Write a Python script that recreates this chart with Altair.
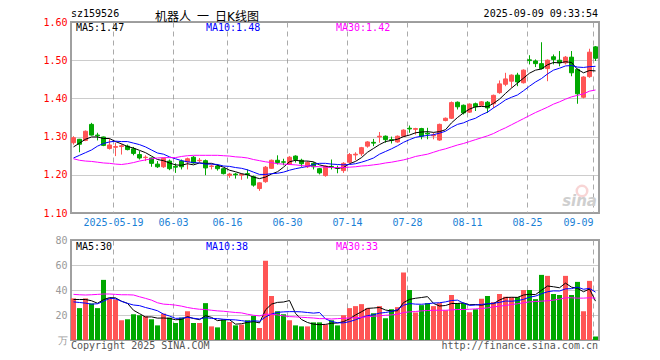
import altair as alt
import pandas as pd

# ---------------- data ----------------
trade_days = {
    "05": ["08", "09", "12", "13", "14", "15", "16", "19", "20", "21", "22", "23", "26", "27", "28", "29", "30"],
    "06": ["03", "04", "05", "06", "09", "10", "11", "12", "13", "16", "17", "18", "19", "20", "23", "24", "25", "26", "27", "30"],
    "07": ["01", "02", "03", "04", "07", "08", "09", "10", "11", "14", "15", "16", "17", "18", "21", "22", "23", "24", "25", "28", "29", "30", "31"],
    "08": ["01", "04", "05", "06", "07", "08", "11", "12", "13", "14", "15", "18", "19", "20", "21", "22", "25", "26", "27", "28", "29"],
    "09": ["01", "02", "03", "04", "05", "08", "09"],
}
dates = [f"2025-{m}-{d}" for m, ds in trade_days.items() for d in ds]

opens = [1.284, 1.293, 1.290, 1.332, 1.304, 1.299, 1.269, 1.272, 1.274, 1.275,
         1.268, 1.253, 1.245, 1.244, 1.228, 1.221, 1.236, 1.222, 1.236, 1.234,
         1.246, 1.237, 1.237, 1.222, 1.223, 1.216, 1.198, 1.202, 1.199, 1.203,
         1.195, 1.164, 1.182, 1.217, 1.238, 1.234, 1.227, 1.249, 1.238, 1.221,
         1.230, 1.216, 1.198, 1.222, 1.219, 1.211, 1.233, 1.252, 1.255, 1.275,
         1.285, 1.299, 1.301, 1.292, 1.286, 1.301, 1.322, 1.319, 1.321, 1.309,
         1.302, 1.291, 1.342, 1.348, 1.390, 1.382, 1.364, 1.386, 1.382, 1.390,
         1.386, 1.415, 1.437, 1.445, 1.461, 1.441, 1.501, 1.498, 1.491, 1.478,
         1.509, 1.500, 1.493, 1.508, 1.476, 1.403, 1.457, 1.535]
highs = [1.301, 1.294, 1.316, 1.336, 1.310, 1.300, 1.295, 1.284, 1.280, 1.279,
         1.273, 1.262, 1.251, 1.245, 1.236, 1.245, 1.240, 1.230, 1.240, 1.245,
         1.249, 1.244, 1.240, 1.227, 1.228, 1.218, 1.205, 1.205, 1.204, 1.214,
         1.198, 1.180, 1.223, 1.240, 1.251, 1.242, 1.249, 1.251, 1.242, 1.236,
         1.233, 1.218, 1.225, 1.240, 1.224, 1.233, 1.257, 1.259, 1.273, 1.288,
         1.294, 1.312, 1.303, 1.300, 1.303, 1.319, 1.329, 1.323, 1.323, 1.323,
         1.310, 1.334, 1.350, 1.392, 1.392, 1.384, 1.387, 1.389, 1.393, 1.393,
         1.410, 1.447, 1.467, 1.463, 1.467, 1.476, 1.513, 1.502, 1.547, 1.502,
         1.515, 1.524, 1.511, 1.524, 1.478, 1.458, 1.530, 1.537]
lows = [1.279, 1.259, 1.288, 1.303, 1.290, 1.275, 1.266, 1.249, 1.253, 1.264,
        1.251, 1.240, 1.236, 1.221, 1.218, 1.218, 1.212, 1.205, 1.214, 1.214,
        1.229, 1.233, 1.199, 1.214, 1.211, 1.201, 1.192, 1.190, 1.187, 1.190,
        1.169, 1.158, 1.179, 1.216, 1.227, 1.225, 1.226, 1.232, 1.221, 1.218,
        1.214, 1.201, 1.195, 1.214, 1.204, 1.205, 1.231, 1.238, 1.249, 1.271,
        1.275, 1.284, 1.284, 1.282, 1.284, 1.300, 1.310, 1.305, 1.293, 1.293,
        1.293, 1.289, 1.340, 1.346, 1.371, 1.358, 1.362, 1.367, 1.380, 1.362,
        1.375, 1.412, 1.432, 1.428, 1.432, 1.439, 1.489, 1.482, 1.476, 1.445,
        1.489, 1.484, 1.489, 1.458, 1.386, 1.400, 1.454, 1.498]
closes = [1.297, 1.280, 1.314, 1.304, 1.302, 1.277, 1.278, 1.274, 1.276, 1.266,
          1.256, 1.244, 1.246, 1.230, 1.221, 1.243, 1.216, 1.220, 1.221, 1.242,
          1.231, 1.238, 1.218, 1.223, 1.216, 1.203, 1.202, 1.200, 1.201, 1.201,
          1.173, 1.179, 1.220, 1.238, 1.232, 1.233, 1.246, 1.240, 1.229, 1.232,
          1.221, 1.205, 1.223, 1.220, 1.217, 1.230, 1.253, 1.254, 1.271, 1.286,
          1.283, 1.301, 1.292, 1.290, 1.301, 1.317, 1.320, 1.321, 1.301, 1.307,
          1.304, 1.332, 1.348, 1.389, 1.378, 1.362, 1.385, 1.378, 1.391, 1.375,
          1.408, 1.438, 1.451, 1.461, 1.443, 1.474, 1.499, 1.491, 1.478, 1.500,
          1.502, 1.493, 1.508, 1.467, 1.412, 1.456, 1.521, 1.505]
ma5 = [1.273, 1.283, 1.293, 1.299, 1.299, 1.295, 1.295, 1.287, 1.281, 1.274,
       1.270, 1.264, 1.258, 1.249, 1.240, 1.237, 1.231, 1.226, 1.225, 1.229,
       1.226, 1.231, 1.230, 1.230, 1.225, 1.220, 1.212, 1.208, 1.203, 1.200,
       1.194, 1.190, 1.194, 1.202, 1.208, 1.220, 1.234, 1.238, 1.236, 1.236,
       1.234, 1.226, 1.222, 1.220, 1.217, 1.219, 1.229, 1.235, 1.245, 1.259,
       1.269, 1.279, 1.287, 1.290, 1.293, 1.300, 1.304, 1.310, 1.312, 1.313,
       1.311, 1.313, 1.318, 1.336, 1.350, 1.362, 1.372, 1.378, 1.379, 1.378,
       1.387, 1.398, 1.413, 1.427, 1.440, 1.453, 1.466, 1.474, 1.477, 1.488,
       1.494, 1.493, 1.496, 1.494, 1.476, 1.467, 1.473, 1.472]
ma10 = [1.244, 1.251, 1.258, 1.265, 1.275, 1.282, 1.286, 1.288, 1.287, 1.287,
        1.283, 1.279, 1.273, 1.265, 1.257, 1.254, 1.247, 1.242, 1.237, 1.234,
        1.232, 1.231, 1.228, 1.228, 1.227, 1.223, 1.222, 1.219, 1.217, 1.213,
        1.207, 1.201, 1.201, 1.203, 1.204, 1.207, 1.212, 1.216, 1.219, 1.222,
        1.227, 1.230, 1.230, 1.228, 1.227, 1.226, 1.227, 1.229, 1.233, 1.238,
        1.244, 1.254, 1.261, 1.268, 1.276, 1.285, 1.292, 1.298, 1.301, 1.303,
        1.305, 1.309, 1.314, 1.324, 1.332, 1.336, 1.343, 1.348, 1.357, 1.364,
        1.375, 1.385, 1.396, 1.403, 1.409, 1.420, 1.432, 1.443, 1.452, 1.464,
        1.474, 1.479, 1.485, 1.486, 1.482, 1.481, 1.483, 1.484]
ma30 = [1.242, 1.238, 1.236, 1.235, 1.233, 1.231, 1.230, 1.228, 1.227, 1.229,
        1.232, 1.236, 1.239, 1.242, 1.244, 1.245, 1.245, 1.245, 1.248, 1.250,
        1.251, 1.251, 1.251, 1.251, 1.251, 1.250, 1.249, 1.247, 1.246, 1.244,
        1.240, 1.237, 1.234, 1.232, 1.229, 1.228, 1.227, 1.226, 1.224, 1.223,
        1.222, 1.221, 1.220, 1.219, 1.219, 1.219, 1.220, 1.221, 1.223, 1.224,
        1.226, 1.228, 1.231, 1.233, 1.236, 1.239, 1.243, 1.248, 1.251, 1.254,
        1.259, 1.264, 1.268, 1.273, 1.278, 1.282, 1.287, 1.292, 1.297, 1.302,
        1.308, 1.316, 1.323, 1.331, 1.339, 1.347, 1.355, 1.363, 1.370, 1.377,
        1.385, 1.391, 1.398, 1.404, 1.408, 1.412, 1.419, 1.422]

volumes = [33.3, 25.5, 33.3, 29.2, 25.5, 48.1, 33.3, 32.5, 15.8, 16.6,
           20.6, 19.8, 19.0, 16.6, 11.7, 21.1, 17.9, 13.6, 17.9, 23.0,
           13.6, 13.6, 29.5, 10.9, 10.1, 16.3, 14.4, 11.7, 12.3, 15.8,
           19.3, 9.6, 63.4, 35.2, 23.0, 20.6, 15.8, 11.7, 10.9, 10.9,
           14.1, 14.1, 12.3, 15.8, 11.7, 19.8, 25.5, 27.1, 28.7, 25.5,
           21.4, 27.1, 17.4, 24.6, 26.3, 54.0, 40.0, 22.0, 27.9, 29.5,
           27.1, 29.5, 23.8, 36.0, 29.5, 29.5, 22.2, 24.6, 33.0, 35.2,
           30.3, 36.8, 34.6, 34.3, 34.3, 40.0, 40.0, 32.7, 52.1, 51.3,
           36.8, 36.0, 51.3, 36.0, 46.5, 23.0, 47.3, 2.8]
vma5 = [32.4, 32.4, 32.4, 31.4, 29.4, 32.3, 33.9, 33.7, 31.0, 29.3,
        23.8, 21.1, 18.4, 18.5, 17.5, 17.6, 17.3, 16.2, 16.4, 18.7,
        17.2, 16.3, 19.5, 18.1, 15.5, 16.1, 16.2, 12.7, 13.0, 14.1,
        14.7, 13.7, 24.1, 28.7, 30.1, 30.4, 31.6, 21.3, 16.4, 14.0,
        12.7, 12.3, 12.5, 13.4, 13.6, 14.7, 17.0, 20.0, 22.6, 25.3,
        25.6, 26.0, 24.0, 23.2, 23.4, 29.9, 32.5, 33.4, 34.0, 34.7,
        29.3, 27.2, 27.6, 29.2, 29.2, 29.7, 28.2, 28.4, 27.8, 28.9,
        29.1, 32.0, 34.0, 34.2, 34.1, 36.0, 36.6, 36.3, 39.8, 43.2,
        42.6, 41.8, 45.5, 42.3, 41.3, 38.6, 40.8, 31.1]
vma10 = [30.5, 30.0, 29.5, 28.7, 29.0, 31.0, 33.3, 33.0, 31.0, 29.3,
         28.0, 27.5, 26.0, 24.8, 23.4, 20.7, 19.2, 17.3, 17.5, 18.1,
         17.4, 16.8, 17.9, 17.3, 17.1, 16.6, 16.3, 16.1, 15.5, 14.8,
         15.4, 15.0, 18.4, 20.8, 22.1, 22.5, 22.7, 22.7, 22.5, 22.0,
         21.5, 22.0, 16.9, 14.9, 13.8, 13.7, 14.7, 16.2, 18.0, 19.5,
         20.2, 21.5, 22.0, 22.9, 24.3, 27.8, 29.2, 28.7, 28.6, 29.0,
         29.6, 29.8, 30.5, 31.6, 31.9, 29.5, 27.7, 28.0, 28.5, 29.0,
         29.4, 30.1, 31.2, 31.0, 31.5, 32.5, 34.3, 35.1, 37.0, 38.6,
         39.3, 39.2, 40.9, 41.1, 42.3, 40.6, 41.3, 38.3]
vma30 = [36.5, 36.2, 36.0, 36.2, 36.5, 36.8, 36.8, 36.5, 36.2, 36.2,
         36.0, 34.6, 33.3, 31.9, 29.8, 28.7, 28.4, 27.9, 27.1, 26.0,
         25.2, 24.6, 24.4, 23.8, 23.3, 23.0, 22.5, 22.0, 21.7, 20.6,
         19.8, 19.3, 20.6, 20.6, 20.1, 19.3, 18.7, 18.5, 18.2, 17.9,
         17.6, 17.1, 17.1, 16.8, 17.1, 17.4, 17.6, 17.9, 18.2, 18.5,
         19.0, 19.3, 19.8, 20.1, 20.6, 22.0, 22.5, 22.8, 23.3, 23.6,
         23.8, 23.8, 23.8, 24.1, 24.4, 24.4, 24.6, 24.9, 25.2, 25.7,
         26.5, 27.1, 27.6, 28.4, 29.0, 29.8, 30.5, 30.8, 31.1, 31.4,
         31.9, 32.7, 33.8, 33.8, 33.5, 33.5, 33.8, 33.5]

tick_dates = ["2025-05-19", "2025-06-03", "2025-06-16", "2025-06-30", "2025-07-14",
              "2025-07-28", "2025-08-11", "2025-08-25", "2025-09-09"]
tick_text = ["2025-05-19", "06-03", "06-16", "06-30", "07-14", "07-28", "08-11", "08-25", "09-09"]
price_ticks = [1.10, 1.20, 1.30, 1.40, 1.50, 1.60]
vol_ticks = [0, 20, 40, 60, 80]

code_text = "sz159526"
title_text = "机器人\u2002一\u2002日K线图"
time_text = "2025-09-09 09:33:54"
price_ma_labels = ["MA5:1.47", "MA10:1.48", "MA30:1.42"]
vol_ma_labels = ["MA5:30", "MA10:38", "MA30:33"]
footer_left = "Copyright 2025 SINA.COM"
footer_right = "http://finance.sina.com.cn"

# ---------------- styling ----------------
RED = "#ff5555"
GREEN = "#00a800"
MA_COLORS = ["#000000", "#0000ff", "#ff00ff"]
MONO = "DejaVu Sans Mono"
TITLE_FONT = "DejaVu Sans, Noto Sans CJK SC"
W, H1, H2 = 528, 191, 100
N = len(dates)

df = pd.DataFrame({
    "date": dates, "open": opens, "high": highs, "low": lows, "close": closes,
    "vol": volumes, "ma5": ma5, "ma10": ma10, "ma30": ma30,
    "vma5": vma5, "vma10": vma10, "vma30": vma30,
})
df["idx"] = range(N)
tick_idx = [dates.index(d) for d in tick_dates]

tick_expr = ("[" + ",".join(f"'{t}'" for t in tick_text) + "][indexof(["
             + ",".join(str(i) for i in tick_idx) + "], datum.value)]")

xscale = alt.Scale(domain=[0, N], nice=False, zero=False)
pscale = alt.Scale(domain=[1.10, 1.60], nice=False, zero=False)
vscale = alt.Scale(domain=[0, 80], nice=False, zero=False)
cscale = alt.Scale(domain=["up", "down"], range=[RED, GREEN])

xaxis_main = alt.Axis(values=tick_idx, labelExpr=tick_expr, grid=True, gridDash=[5, 4],
                      gridColor="#aaaaaa", ticks=False, domain=False, labelFont=MONO,
                      labelFontSize=10, labelColor="#1a7fd6", labelPadding=4, labelFlush=10,
                      labelOverlap=False, labelAngle=0, title=None, minExtent=20, maxExtent=20)
xaxis_vol = alt.Axis(values=tick_idx, labels=False, grid=True, gridDash=[5, 4],
                     gridColor="#aaaaaa", ticks=False, domain=False, title=None)
yaxis_main = alt.Axis(values=price_ticks, format=".2f", grid=True, gridDash=[1, 1],
                      gridColor="#999999", ticks=False, domain=False, labelFont=MONO,
                      labelFontSize=10, labelColor="#ff0000", labelPadding=4, title=None,
                      minExtent=40, maxExtent=40)
yaxis_vol = alt.Axis(values=vol_ticks, labelExpr="datum.value == 0 ? '万' : datum.label",
                     grid=True, gridDash=[1, 1], gridColor="#999999", ticks=False, domain=False,
                     labelFont=MONO, labelFontSize=10, labelColor="#999999", labelPadding=4,
                     title=None, minExtent=40, maxExtent=40)


def X(field, axis):
    return alt.X(field, type="quantitative", scale=xscale, axis=axis, title=None)


def X2(field):
    return alt.X2(field)


base = alt.Chart(df).transform_calculate(
    xc="datum.idx + 2.5/6",
    xb0="datum.idx + 0.5/6",
    xb1="datum.idx + 4.5/6",
    xv1="datum.idx + 5/6",
    bodylo="min(datum.open, datum.close)",
    bodyhi="max(datum.open, datum.close)",
    dir="datum.close >= datum.open ? 'up' : 'down'",
    zero="0",
)


def Yp(field):
    return alt.Y(field, type="quantitative", scale=pscale, axis=yaxis_main, title=None)


def Yv(field):
    return alt.Y(field, type="quantitative", scale=vscale, axis=yaxis_vol, title=None)


def label(text, x, y, color="#000000", size=10, align="left", baseline="alphabetic",
          font=MONO, **kw):
    return alt.Chart(pd.DataFrame({"t": [text]})).mark_text(
        align=align, baseline=baseline, font=font, fontSize=size, color=color, **kw
    ).encode(x=alt.value(x), y=alt.value(y), text="t:N")


# ---------------- price panel ----------------
wick = base.mark_rule(strokeWidth=1).encode(
    x=X("xc", xaxis_main), y=Yp("low"), y2=alt.Y2("high"),
    color=alt.Color("dir:N", scale=cscale, legend=None))
body = base.mark_rect(strokeWidth=1).encode(
    x=X("xb0", xaxis_main), x2=X2("xb1"), y=Yp("bodylo"), y2=alt.Y2("bodyhi"),
    fill=alt.Fill("dir:N", scale=cscale, legend=None),
    stroke=alt.Stroke("dir:N", scale=cscale, legend=None))
price_lines = [
    base.mark_line(color=c, strokeWidth=1).encode(x=X("xc", xaxis_main), y=Yp(f))
    for f, c in zip(["ma5", "ma10", "ma30"], MA_COLORS)
]
price_texts = [
    label(t, x, 9, color=c) for t, x, c in zip(price_ma_labels, [5, 135, 265], MA_COLORS)
]
header = [
    label(code_text, 0, -13, baseline="top"),
    label(title_text, 136, -1.5, size=12, align="center", baseline="alphabetic",
          font=TITLE_FONT),
    label(time_text, 527, -13, align="right", baseline="top"),
]
# faint sina watermark (eye + word)
eye = alt.Chart(pd.DataFrame({"t": ["eye"]})).mark_point(
    shape="circle", filled=False, size=110, strokeWidth=2.5, color="#f6c4c4"
).encode(x=alt.value(511), y=alt.value(169))
watermark = label("sina", 526, 184, color="#cfcfcf", size=15, align="right",
                  font="DejaVu Sans", fontStyle="italic", fontWeight="bold")

price_panel = alt.layer(wick, body, *price_lines, *price_texts, *header, eye,
                        watermark).properties(width=W, height=H1)

# ---------------- volume panel ----------------
bars = base.mark_rect().encode(
    x=X("idx", xaxis_vol), x2=X2("xv1"), y=Yv("vol"), y2=alt.Y2("zero"),
    fill=alt.Fill("dir:N", scale=cscale, legend=None))
vol_lines = [
    base.mark_line(color=c, strokeWidth=1).encode(x=X("xc", xaxis_vol), y=Yv(f))
    for f, c in zip(["vma5", "vma10", "vma30"], MA_COLORS)
]
vol_texts = [
    label(t, x, 10, color=c) for t, x, c in zip(vol_ma_labels, [5, 135, 265], MA_COLORS)
]
footer = [
    label(footer_left, 0, 101, color="#555555", baseline="top"),
    label(footer_right, 527, 101, color="#555555", align="right", baseline="top"),
]
vol_panel = alt.layer(bars, *vol_lines, *vol_texts, *footer).properties(width=W, height=H2)

chart = alt.vconcat(price_panel, vol_panel, spacing=0).properties(
    padding={"left": 22, "top": 0, "right": 6, "bottom": 0}
).configure_view(stroke="#a0a0a0", strokeWidth=2)

chart.save("out.html", embed_options={"renderer": "svg", "actions": False})
